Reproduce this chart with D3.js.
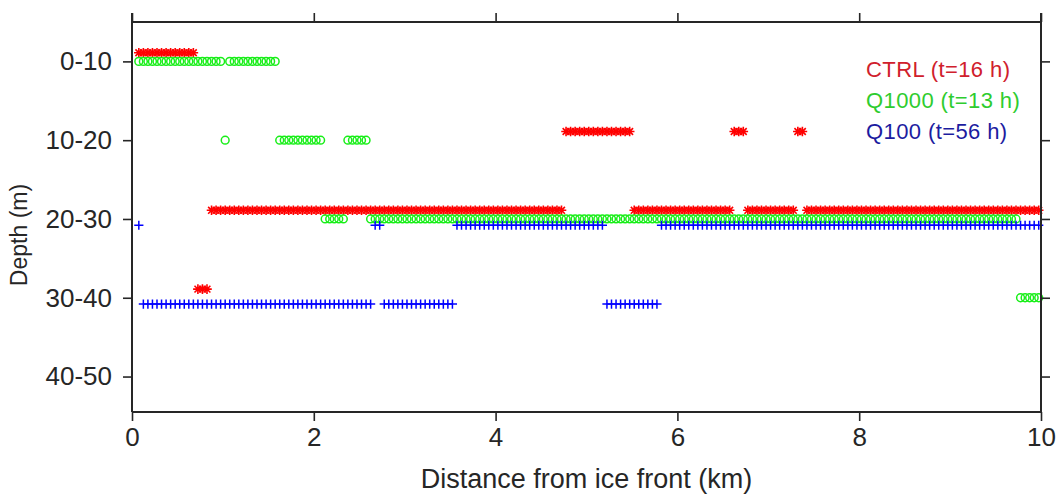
<!DOCTYPE html>
<html>
<head>
<meta charset="utf-8">
<script src="https://cdn.jsdelivr.net/npm/d3@7/dist/d3.min.js"></script>
<style>
  html, body { margin: 0; padding: 0; background: #ffffff; }
  svg { display: block; font-family: "Liberation Sans", Arial, Helvetica, sans-serif; }
</style>
</head>
<body>
<svg id="chart" width="1059" height="497"></svg>
<script>
// Depth classes (rows) and distance ticks
const depthLabels = ["0-10", "10-20", "20-30", "30-40", "40-50"];
const xTicks = [0, 2, 4, 6, 8, 10];

// Model grid along the section: column centres in km
const gridStartKm = 0.075;
const gridStepKm = 0.05;

// Depth class of the plume for each grid column (1 = 0-10 m ... 5 = 40-50 m, "." = none)
// grouped by ten columns for readability
const ctrlLayer =
  "1111111111 1114443333 3333333333 3333333333 3333333333 " +
  "3333333333 3333333333 3333333333 3333333333 3333222222 " +
  "2222222223 3333333333 3333333333 3222333333 3333322333 " +
  "3333333333 3333333333 3333333333 3333333333 333333333";

const q1000Layer =
  "1111111111 1111111112 1111111111 1222222222 2333332222 " +
  "2333333333 3333333333 3333333333 3333333333 3333333333 " +
  "3333333333 3333333333 3333333333 3333333333 3333333333 " +
  "3333333333 3333333333 3333333333 3333333333 333344444";

const q100Layer =
  "3444444444 4444444444 4444444444 4444444444 4444444444 " +
  "4433444444 4444444444 3333333333 3333333333 3333333333 " +
  "3334444444 4444433333 3333333333 3333333333 3333333333 " +
  "3333333333 3333333333 3333333333 3333333333 333333333";

const seriesNames = ["CTRL (t=16 h)", "Q1000 (t=13 h)", "Q100 (t=56 h)"];
const seriesLayers = [ctrlLayer, q1000Layer, q100Layer];

// Styling per series
const seriesStyle = [
  { marker: "asterisk", color: "#ff0000", text: "#d0202c", shift: -0.11, width: 1.6 },
  { marker: "circle",   color: "#18ee18", text: "#2ecc2e", shift: 0.0,  width: 1.5 },
  { marker: "plus",     color: "#0000ff", text: "#1c1ca0", shift: 0.08, width: 1.5 }
];

const ink = "#262626";
const svg = d3.select("#chart");

const x = d3.scaleLinear().domain([0, 10]).range([132, 1041]);
const y = d3.scaleLinear().domain([0.5, 5.45]).range([22, 412]);

function decode(str) {
  const cols = str.replace(/\s+/g, "").split("");
  const pts = [];
  cols.forEach((c, i) => {
    if (c === ".") return;
    pts.push({ km: gridStartKm + gridStepKm * i, layer: +c });
  });
  return pts;
}

const markerPath = {
  plus: "M-4.6,0H4.6M0,-4.6V4.6",
  asterisk: "M-4.8,0H4.8M0,-4.8V4.8M-3.4,-3.4L3.4,3.4M-3.4,3.4L3.4,-3.4"
};

// Data marks
seriesLayers.forEach((str, si) => {
  const st = seriesStyle[si];
  const pts = decode(str);
  const g = svg.append("g").attr("class", "series-" + si);
  if (st.marker === "circle") {
    g.selectAll("circle").data(pts).join("circle")
      .attr("cx", d => x(d.km))
      .attr("cy", d => y(d.layer + st.shift))
      .attr("r", 3.9)
      .attr("fill", "none")
      .attr("stroke", st.color)
      .attr("stroke-width", st.width);
  } else {
    g.selectAll("path").data(pts).join("path")
      .attr("transform", d => `translate(${x(d.km)},${y(d.layer + st.shift)})`)
      .attr("d", markerPath[st.marker])
      .attr("fill", "none")
      .attr("stroke", st.color)
      .attr("stroke-width", st.width);
  }
});

// Axes
const tickLen = 9;
const xAxis = svg.append("g")
  .attr("transform", `translate(0,${y.range()[1]})`)
  .call(d3.axisBottom(x).tickValues(xTicks).tickFormat(d3.format("d"))
    .tickSize(tickLen).tickPadding(7).tickSizeOuter(0));
const xAxisTop = svg.append("g")
  .attr("transform", `translate(0,${y.range()[0]})`)
  .call(d3.axisTop(x).tickValues(xTicks).tickFormat("").tickSize(tickLen).tickSizeOuter(0));
const yAxis = svg.append("g")
  .attr("transform", `translate(${x.range()[0]},0)`)
  .call(d3.axisLeft(y).tickValues(d3.range(1, depthLabels.length + 1))
    .tickFormat(d => depthLabels[d - 1]).tickSize(tickLen).tickPadding(11).tickSizeOuter(0));
const yAxisRight = svg.append("g")
  .attr("transform", `translate(${x.range()[1]},0)`)
  .call(d3.axisRight(y).tickValues(d3.range(1, depthLabels.length + 1))
    .tickFormat("").tickSize(tickLen).tickSizeOuter(0));

[xAxis, xAxisTop, yAxis, yAxisRight].forEach(a => {
  a.select(".domain").remove();
  a.selectAll(".tick line").attr("stroke", ink).attr("stroke-width", 1.6);
  a.selectAll(".tick text").attr("fill", ink).style("font-size", "26px")
    .style("font-family", "'Liberation Sans', Arial, sans-serif");
});

// Box frame
const [x0, x1] = x.range();
const [yTop, yBot] = y.range();
const frame = svg.append("g").attr("stroke", ink).attr("stroke-width", 2).attr("fill", "none");
frame.append("line").attr("x1", x0).attr("x2", x1).attr("y1", yBot).attr("y2", yBot);
frame.append("line").attr("x1", x0).attr("x2", x1).attr("y1", yTop).attr("y2", yTop);
frame.append("line").attr("x1", x0).attr("x2", x0).attr("y1", yTop - tickLen).attr("y2", yBot);
frame.append("line").attr("x1", x1).attr("x2", x1).attr("y1", yTop - tickLen).attr("y2", yBot);

// Axis titles
svg.append("text")
  .attr("x", (x0 + x1) / 2).attr("y", 488)
  .attr("text-anchor", "middle").attr("fill", ink)
  .style("font-size", "27px")
  .text("Distance from ice front (km)");

svg.append("text")
  .attr("transform", `translate(27,235) rotate(-90)`)
  .attr("text-anchor", "middle").attr("fill", ink)
  .style("font-size", "23px")
  .text("Depth (m)");

// Series labels
const legendX = 866, legendY0 = 77, legendStep = 31;
svg.append("g").selectAll("text").data(seriesNames).join("text")
  .attr("x", legendX)
  .attr("y", (d, i) => legendY0 + i * legendStep)
  .attr("fill", (d, i) => seriesStyle[i].text)
  .style("font-size", "22px")
  .style("letter-spacing", "0.4px")
  .text(d => d);
</script>
</body>
</html>
